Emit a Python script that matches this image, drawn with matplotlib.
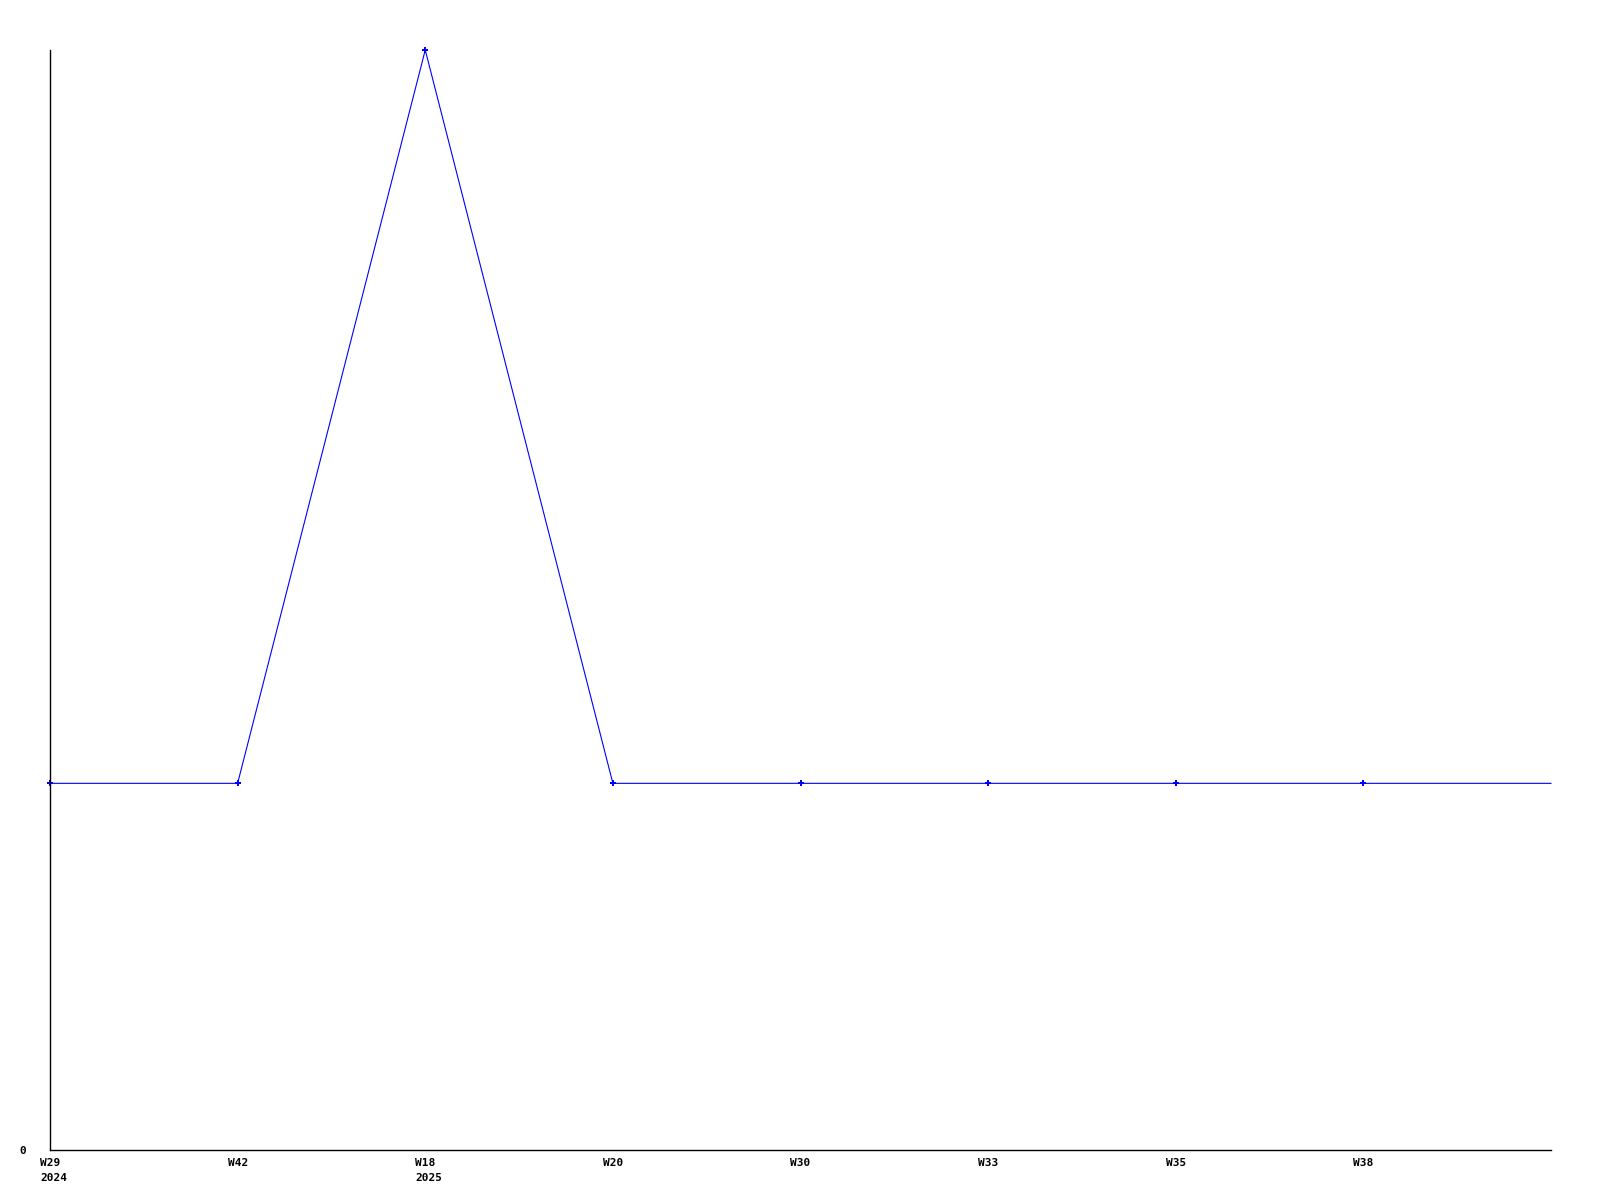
import numpy as np
import matplotlib
matplotlib.use("Agg")
import matplotlib.pyplot as plt
import matplotlib.transforms as mtransforms

weeks = ["W29\n2024", "W42", "W18\n2025", "W20", "W30", "W33", "W35", "W38", ""]
values = [1, 1, 3, 1, 1, 1, 1, 1, 1]

fig = plt.figure(figsize=(16, 12), dpi=100)
ax = fig.add_axes([50/1600, 50/1200, 1501/1600, 1100/1200])

x = np.arange(len(values))
ax.plot(x, values, color="#0000ff", linewidth=0.8, marker="P", markersize=4,
        markeredgewidth=0, markevery=list(range(len(values) - 1)), clip_on=False)

ax.set_xlim(0, len(values) - 1)
ax.set_ylim(0, 3)

ax.spines["top"].set_visible(False)
ax.spines["right"].set_visible(False)
ax.spines["left"].set_linewidth(1)
ax.spines["bottom"].set_linewidth(1)

# week labels, left aligned a little left of each point
ax.set_xticks(x)
ax.set_xticklabels([])
ax.tick_params(axis="x", length=0)
trans = mtransforms.blended_transform_factory(ax.transData, ax.transAxes)
trans = trans + mtransforms.ScaledTranslation(-10/100, -8/100, fig.dpi_scale_trans)
for xi, lab in zip(x, weeks):
    ax.text(xi, 0, lab, transform=trans, ha="left", va="top",
            family="DejaVu Sans Mono", fontweight="bold", fontsize=8, linespacing=1.6)

ax.set_yticks([0])
ax.set_yticklabels(["0"], family="DejaVu Sans Mono", fontweight="bold", fontsize=8)
ax.tick_params(axis="y", length=0, pad=17)

fig.savefig("out.png", dpi=100)
